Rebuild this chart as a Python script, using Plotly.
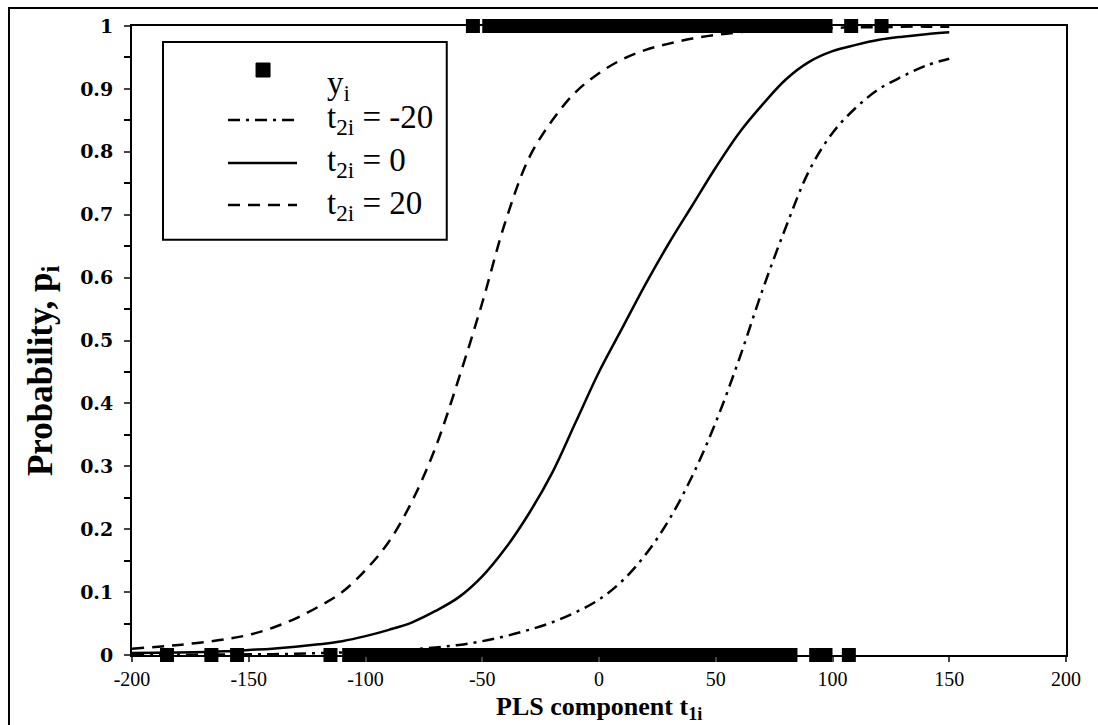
import plotly.graph_objects as go

# ---- data ----
top_x = [-54, -47, -44, -41, -38, -35, -32, -29, -26, -23, -20, -17, -14, -11, -8, -5, -2, 1, 4, 7,
         10, 13, 16, 19, 22, 25, 28, 31, 34, 37, 40, 43, 46, 49, 52, 55, 58, 61, 64, 67, 70, 73,
         76, 79, 82, 85, 88, 91, 94, 97, 108, 121]
bottom_x = [-185, -166, -155, -115, -107, -104, -101, -98, -95, -92, -89, -86, -83, -80, -77, -74,
            -71, -68, -65, -62, -59, -56, -53, -50, -47, -44, -41, -38, -35, -32, -29, -26, -23,
            -20, -17, -14, -11, -8, -5, -2, 1, 4, 7, 10, 13, 16, 19, 22, 25, 28, 31, 34, 37, 40,
            43, 46, 49, 52, 55, 58, 61, 64, 67, 70, 73, 76, 79, 82, 93, 97, 107]

curve_x = [-200, -180, -160, -150, -140, -130, -120, -110, -100, -90, -80, -70, -60, -50, -40, -30,
           -20, -10, 0, 10, 20, 30, 40, 50, 60, 70, 80, 90, 100, 110, 120, 130, 140, 150]
p_minus20 = [0.0003, 0.0005, 0.0008, 0.001, 0.0013, 0.002, 0.003, 0.004, 0.005, 0.007, 0.009,
             0.012, 0.016, 0.022, 0.03, 0.04, 0.052, 0.068, 0.088, 0.118, 0.16, 0.215, 0.285,
             0.37, 0.47, 0.58, 0.68, 0.77, 0.83, 0.87, 0.90, 0.92, 0.937, 0.948]
p_zero = [0.003, 0.004, 0.006, 0.008, 0.010, 0.013, 0.017, 0.022, 0.03, 0.04, 0.052, 0.07, 0.092,
          0.125, 0.17, 0.225, 0.29, 0.37, 0.45, 0.52, 0.59, 0.655, 0.715, 0.775, 0.83, 0.875,
          0.915, 0.943, 0.96, 0.97, 0.978, 0.983, 0.987, 0.99]
p_plus20 = [0.01, 0.016, 0.025, 0.032, 0.043, 0.058, 0.077, 0.10, 0.135, 0.18, 0.245, 0.33, 0.44,
            0.56, 0.69, 0.79, 0.85, 0.895, 0.925, 0.947, 0.962, 0.972, 0.98, 0.986, 0.99, 0.993,
            0.995, 0.996, 0.997, 0.998, 0.998, 0.999, 0.999, 0.999]

x_ticks = [-200, -150, -100, -50, 0, 50, 100, 150, 200]
x_tick_labels = ["-200", "-150", "-100", "-50", "0", "50", "100", "150", "200"]
y_ticks = [0, 0.1, 0.2, 0.3, 0.4, 0.5, 0.6, 0.7, 0.8, 0.9, 1]
y_tick_labels = ["0", "0.1", "0.2", "0.3", "0.4", "0.5", "0.6", "0.7", "0.8", "0.9", "1"]

names = ["y<sub>i</sub>", "t<sub>2i</sub> = -20", "t<sub>2i</sub> = 0", "t<sub>2i</sub> = 20"]
dashes = [None, "12px,6px,3px,6px", "solid", "12px,8px"]
x_title = "<b>PLS component t<sub>1i</sub></b>"
y_title = "<b>Probability, p<sub>i</sub></b>"

FONT = "Liberation Serif, Times New Roman, serif"

fig = go.Figure()
fig.add_trace(go.Scatter(
    x=top_x + bottom_x, y=[1] * len(top_x) + [0] * len(bottom_x),
    mode="markers", name=names[0],
    marker=dict(symbol="square", size=14, color="black"), cliponaxis=False))
for vals, nm, ds in zip([p_minus20, p_zero, p_plus20], names[1:], dashes[1:]):
    fig.add_trace(go.Scatter(
        x=curve_x, y=vals, mode="lines", name=nm, line_shape="spline",
        line=dict(color="black", width=2.5, dash=ds)))

# ---- legend drawn as a boxed key (long line samples as in the reference) ----
shapes = [
    # outer frame of the figure
    dict(type="rect", xref="paper", yref="paper", x0=-0.1317, x1=1.3, y0=-0.4, y1=1.0286,
         line=dict(color="black", width=2), fillcolor="rgba(0,0,0,0)", layer="above"),
    # legend box
    dict(type="rect", xref="paper", yref="paper", x0=0.0332, x1=0.337, y0=0.66, y1=0.9746,
         line=dict(color="black", width=2), fillcolor="white", layer="above"),
    # legend marker
    dict(type="rect", xref="paper", yref="paper", xsizemode="pixel", ysizemode="pixel",
         xanchor=0.1403, yanchor=0.930, x0=-7, x1=7, y0=-7, y1=7,
         line=dict(color="black", width=1), fillcolor="black", layer="above"),
]
row_y = [0.905, 0.8506, 0.7822, 0.7154]
for ry, ds in zip(row_y[1:], dashes[1:]):
    shapes.append(dict(type="line", xref="paper", yref="paper", x0=0.1028, x1=0.1767, y0=ry, y1=ry,
                       line=dict(color="black", width=2.5, dash=ds), layer="above"))
annotations = [dict(xref="paper", yref="paper", x=0.2066, y=ry, text=nm, showarrow=False,
                    xanchor="left", yanchor="middle", font=dict(size=33, family=FONT))
               for ry, nm in zip(row_y, names)]
# axis titles placed as in the reference
annotations.append(dict(xref="paper", yref="paper", x=0.5, y=-0.1113, text=x_title,
                        showarrow=False, xanchor="center", yanchor="bottom", borderpad=0,
                        font=dict(size=26, family=FONT)))
annotations.append(dict(xref="paper", yref="paper", x=-0.096, y=0.452, text=y_title,
                        showarrow=False, xanchor="center", yanchor="middle", textangle=-90,
                        font=dict(size=35, family=FONT)))

fig.update_layout(
    width=1098, height=725,
    margin=dict(l=132, r=32, t=26, b=70),
    paper_bgcolor="white", plot_bgcolor="white",
    font=dict(family=FONT, color="black", size=22),
    showlegend=False,
    shapes=shapes, annotations=annotations,
    xaxis=dict(range=[-200, 200], tickvals=x_ticks, ticktext=x_tick_labels, ticks="outside",
               ticklen=5, tickwidth=2, showline=True, linecolor="black", linewidth=2, mirror=True,
               showgrid=False, zeroline=False, ticklabelstandoff=0, automargin=False,
               tickfont=dict(size=20, family=FONT)),
    yaxis=dict(range=[0, 1], tickvals=y_ticks, ticktext=y_tick_labels, ticks="outside", ticklen=6,
               tickwidth=2, showline=True, linecolor="black", linewidth=2, mirror=True,
               showgrid=False, zeroline=False, ticklabelstandoff=7, automargin=False,
               tickfont=dict(size=19, family="DejaVu Serif", weight="bold"),
               minor=dict(dtick=0.05, ticks="outside", ticklen=6, tickwidth=1.5, tickcolor="black")),
)

fig.write_html("out.html")
